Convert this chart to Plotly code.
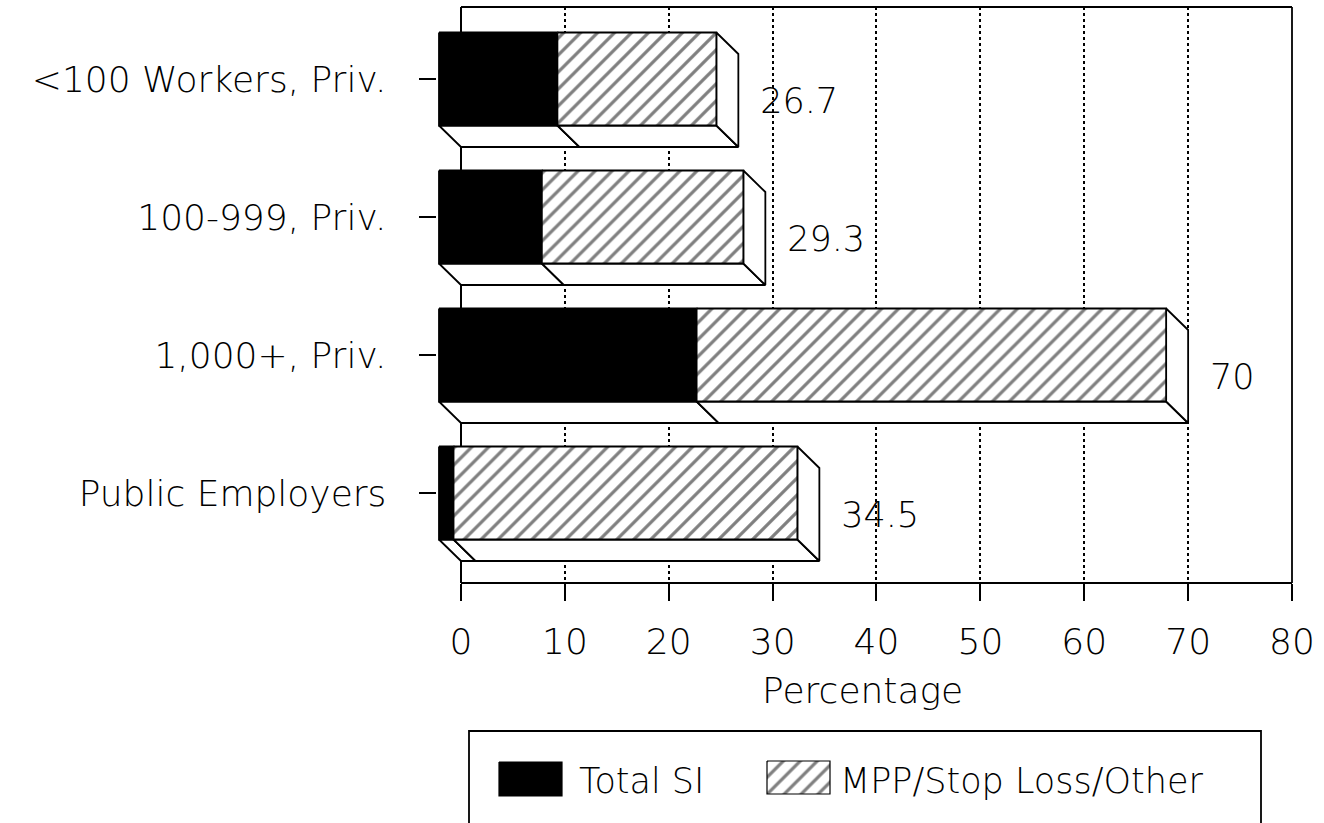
import plotly.graph_objects as go

# ---------------- data ----------------
categories = ["<100 Workers, Priv.", "100-999, Priv.", "1,000+, Priv.", "Public Employers"]
total_si = [11.4, 9.9, 24.8, 1.4]
mpp_other = [15.3, 19.4, 45.2, 33.1]
total_labels = ["26.7", "29.3", "70", "34.5"]
x_ticks = [0, 10, 20, 30, 40, 50, 60, 70, 80]
legend_names = ["Total SI", "MPP/Stop Loss/Other"]

# ---------------- geometry (pixels of the 1324x823 page) ----------------
W, H = 1324, 823
PX0, PX80 = 461, 1292          # x=0 and x=80 positions
sx = (PX80 - PX0) / 80.0       # px per unit
x_min = -2.35
dom_x0 = PX0 + x_min * sx
frame_top, frame_bot = 7, 583
row0, row_step = 79, 138       # front-face centre of first row, spacing
y_top = (frame_top - row0) / row_step
y_bot = (frame_bot - row0) / row_step

dx = 22.0 / sx                 # depth in x units
dy = 21.5 / row_step           # depth in y units
hh = 46.5 / row_step           # half bar height

FONT = "DejaVu Sans"
FW = 200
LW = 1.8

fig = go.Figure()

def poly(xs, ys, **kw):
    fig.add_trace(go.Scatter(x=xs + [xs[0]], y=ys + [ys[0]], mode="lines", fill="toself",
                             line=dict(color="black", width=LW), hoverinfo="skip",
                             showlegend=False, **kw))

hatch = dict(shape="/", fgcolor="black", bgcolor="white", size=12, solidity=0.27)

for i, cat in enumerate(categories):
    c = i
    s = total_si[i]
    T = total_si[i] + mpp_other[i]
    # bottom faces
    poly([-dx, s - dx, s, 0], [c + hh, c + hh, c + hh + dy, c + hh + dy], fillcolor="white")
    poly([s - dx, T - dx, T, s], [c + hh, c + hh, c + hh + dy, c + hh + dy], fillcolor="white")
    # right face
    poly([T - dx, T, T, T - dx], [c - hh, c - hh + dy, c + hh + dy, c + hh], fillcolor="white")
    # front faces
    poly([-dx, s - dx, s - dx, -dx], [c - hh, c - hh, c + hh, c + hh], fillcolor="black")
    poly([s - dx, T - dx, T - dx, s - dx], [c - hh, c - hh, c + hh, c + hh],
         fillcolor="white", fillpattern=hatch)

# value labels
fig.add_trace(go.Scatter(
    x=[total_si[i] + mpp_other[i] + 2.1 for i in range(len(categories))],
    y=[i + dy + 0.03 for i in range(len(categories))],
    mode="text", text=total_labels, textposition="middle right",
    textfont=dict(family=FONT, size=35, color="black", weight=FW),
    cliponaxis=False, hoverinfo="skip", showlegend=False))

# legend swatches on a helper pixel axis
def lpoly(xs, ys, **kw):
    fig.add_trace(go.Scatter(x=xs + [xs[0]], y=ys + [ys[0]], mode="lines", fill="toself",
                             xaxis="x2", yaxis="y2",
                             line=dict(color="black", width=1.2), hoverinfo="skip",
                             showlegend=False, **kw))

lpoly([499, 562, 562, 499], [762, 762, 796, 796], fillcolor="black")
lpoly([767, 830, 830, 767], [761, 761, 794, 794], fillcolor="white", fillpattern=hatch)

annotations = [
    dict(text=legend_names[0], x=577 / W, y=1 - 781 / H, xref="paper", yref="paper",
         xanchor="left", yanchor="middle", showarrow=False,
         font=dict(family=FONT, size=35, color="black", weight=FW)),
    dict(text=legend_names[1], x=838 / W, y=1 - 781 / H, xref="paper", yref="paper",
         xanchor="left", yanchor="middle", showarrow=False,
         font=dict(family=FONT, size=35, color="black", weight=FW)),
    dict(text="Percentage", x=862 / W, y=1 - 690 / H, xref="paper", yref="paper",
         xanchor="center", yanchor="middle", showarrow=False,
         font=dict(family=FONT, size=36, color="black", weight=FW)),
]

def pxl(x, y):
    return x / W, 1 - y / H

shapes = []
for (xa, ya, xb, yb) in [(PX0, frame_top, PX80, frame_top),
                         (PX80, frame_top, PX80, frame_bot),
                         (PX0, frame_bot, PX80, frame_bot)]:
    a = pxl(xa, ya); b = pxl(xb, yb)
    shapes.append(dict(type="line", xref="paper", yref="paper", x0=a[0], y0=a[1], x1=b[0], y1=b[1],
                       line=dict(color="black", width=LW), layer="above"))
# legend box (bottom runs off the page)
a = pxl(469, 731); b = pxl(1261, 840)
shapes.append(dict(type="rect", xref="paper", yref="paper", x0=a[0], y0=b[1], x1=b[0], y1=a[1],
                   line=dict(color="black", width=LW), fillcolor="rgba(0,0,0,0)", layer="above"))

fig.update_layout(
    width=W, height=H,
    margin=dict(l=0, r=0, t=0, b=0),
    paper_bgcolor="white", plot_bgcolor="rgba(0,0,0,0)",
    showlegend=False,
    shapes=shapes, annotations=annotations,
    xaxis=dict(domain=[dom_x0 / W, PX80 / W], range=[x_min, 80],
               tickvals=x_ticks, ticktext=[str(v) for v in x_ticks],
               ticks="outside", ticklen=17, tickwidth=LW, tickcolor="black",
               tickfont=dict(family=FONT, size=36, color="black", weight=FW), ticklabelstandoff=10,
               showgrid=True, gridcolor="black", griddash="dot", gridwidth=1.5,
               zeroline=True, zerolinecolor="black", zerolinewidth=LW,
               showline=False, automargin=False, fixedrange=True),
    yaxis=dict(domain=[1 - frame_bot / H, 1 - frame_top / H], range=[y_bot, y_top],
               tickvals=list(range(len(categories))), ticktext=categories,
               ticks="outside", ticklen=17, tickwidth=LW, tickcolor="black",
               tickfont=dict(family=FONT, size=36, color="black", weight=FW), ticklabelstandoff=25,
               showgrid=False, zeroline=False, showline=False, automargin=False, fixedrange=True),
    xaxis2=dict(domain=[0, 1], range=[0, W], anchor="y2", visible=False, fixedrange=True),
    yaxis2=dict(domain=[0, 1], range=[H, 0], anchor="x2", visible=False, fixedrange=True),
)

fig.write_html("out.html")
